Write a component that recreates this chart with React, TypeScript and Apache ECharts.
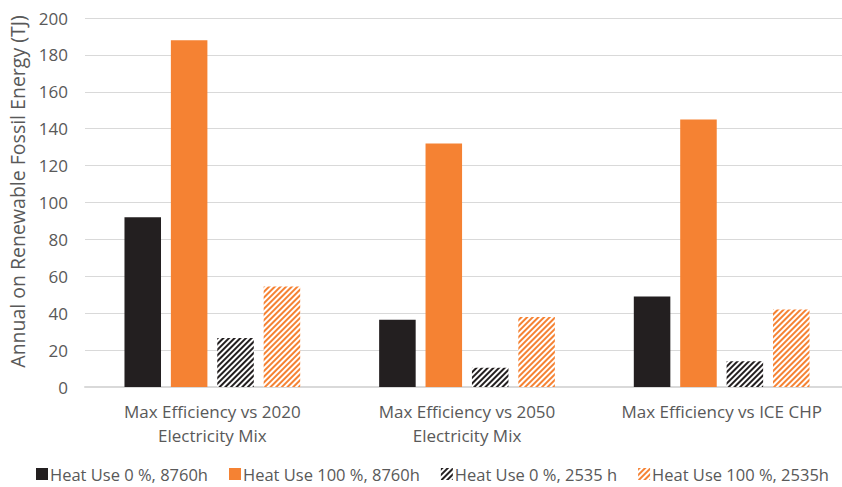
import React, { useEffect, useRef } from "react";
import * as echarts from "echarts";

const categories = ["Max Efficiency vs 2020\nElectricity Mix", "Max Efficiency vs 2050\nElectricity Mix", "Max Efficiency vs ICE CHP"];
const seriesNames = ["Heat Use 0 %, 8760h", "Heat Use 100 %, 8760h", "Heat Use 0 %, 2535 h", "Heat Use 100 %, 2535h"];
const heat0_8760 = [92, 36.5, 49];
const heat100_8760 = [188, 132, 145];
const heat0_2535 = [26.5, 10.5, 14];
const heat100_2535 = [54.5, 38, 42];
const yTicks = { min: 0, max: 200, interval: 20 };
const yAxisName = "Annual on Renewable Fossil Energy (TJ)";

const FONT = "'Open Sans', sans-serif";
const GREY = "#595959";
const BLACK = "#231f20";
const ORANGE = "#f58233";

export default function App() {
  const ref = useRef<HTMLDivElement>(null);
  useEffect(() => {
    if (!ref.current) return;
    const chart = echarts.init(ref.current, undefined, { renderer: "svg" });
    const hatch = (c: string) => ({
      color: c,
      dashArrayX: [1, 0],
      dashArrayY: [2, 1.8],
      rotation: -Math.PI / 4,
      symbolSize: 1,
    });
    const values = [heat0_8760, heat100_8760, heat0_2535, heat100_2535];
    const styles = [
      { color: BLACK },
      { color: ORANGE },
      { color: "#ffffff", decal: hatch(BLACK) },
      { color: "#ffffff", decal: hatch(ORANGE) },
    ];
    chart.setOption({
      animation: false,
      textStyle: { fontFamily: FONT },
      grid: { left: 85, right: -7, top: 18, bottom: 100, containLabel: false, outerBoundsMode: "none" },
      legend: {
        bottom: -1,
        left: 31,
        itemWidth: 12,
        itemHeight: 12,
        itemGap: 21,
        icon: "rect",
        textStyle: { color: GREY, fontSize: 16.5, lineHeight: 18, fontFamily: FONT, padding: [0, 0, 0, -3] },
        data: seriesNames,
      },
      xAxis: {
        type: "category",
        data: categories,
        axisLine: { lineStyle: { color: "#d9d9d9", width: 2 } },
        axisTick: { show: false },
        axisLabel: { color: GREY, fontSize: 17, lineHeight: 24, margin: 12, interval: 0, fontFamily: FONT },
      },
      yAxis: {
        type: "value",
        min: yTicks.min,
        max: yTicks.max,
        interval: yTicks.interval,
        name: yAxisName,
        nameLocation: "middle",
        nameGap: 58,
        nameTextStyle: { color: GREY, fontSize: 19.5, fontFamily: FONT, padding: [0, 0, 0, 22] },
        axisLabel: { color: GREY, fontSize: 17, margin: 17, fontFamily: FONT },
        splitLine: { lineStyle: { color: "#d9d9d9", width: 1 } },
        axisLine: { show: false },
        axisTick: { show: false },
      },
      series: seriesNames.map((name, i) => ({
        name,
        type: "bar",
        data: values[i],
        barGap: "27%",
        barCategoryGap: "31%",
        itemStyle: styles[i],
      })),
    });
    return () => chart.dispose();
  }, []);
  return <div ref={ref} style={{ width: 842, height: 487, position: "absolute", left: 0, top: 0 }} />;
}
